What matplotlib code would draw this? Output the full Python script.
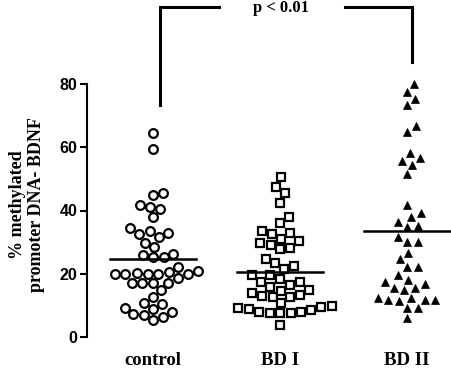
import numpy as np
import matplotlib
matplotlib.use('Agg')
import matplotlib.pyplot as plt

groups = ['control', 'BD I', 'BD II']
control = [64.6, 59.3, 45.4, 44.9, 41.7, 40.4, 41.2, 38.0, 33.5, 32.6, 34.5,
           31.5, 32.8, 28.5, 29.8, 25.2, 26.4, 25.2, 25.9, 22.2, 20.0, 19.8,
           19.9, 20.6, 21.0, 19.8, 20.0, 20.3, 17.2, 17.0, 18.5, 17.2, 17.1,
           14.9, 12.7, 10.4, 9.3, 10.6, 8.0, 7.3, 5.4, 6.4, 7.0, 8.8]
bd1 = [50.5, 47.5, 45.4, 42.4, 37.8, 35.9, 33.5, 32.6, 32.8, 31.0, 29.6,
       28.3, 27.7, 29.1, 30.3, 24.6, 23.3, 21.4, 22.4, 19.6, 18.3, 17.5,
       16.4, 17.5, 19.6, 14.9, 14.0, 13.0, 12.7, 12.7, 13.3, 14.6, 15.9,
       10.8, 9.8, 9.6, 9.1, 8.5, 8.0, 7.7, 7.5, 7.5, 8.0, 8.8, 3.8]
bd2 = [80.0, 77.5, 75.4, 73.3, 66.8, 64.9, 56.5, 55.7, 58.1, 54.4, 51.5,
       41.7, 39.1, 36.4, 38.0, 34.9, 35.1, 30.1, 30.1, 31.5, 26.5, 24.6,
       22.2, 22.2, 19.6, 17.5, 15.4, 14.9, 15.4, 16.9, 18.0, 12.4, 11.7,
       11.7, 11.4, 11.7, 12.4, 9.3, 9.3, 5.9]
medians = [24.6, 20.6, 33.5]
p_text = 'p < 0.01'

serif = 'Liberation Serif'
sans = 'Liberation Sans'


def swarm(ax, values, center, size_px):
    # simple beeswarm: place each point at the smallest offset without overlap
    tr = ax.transData
    cx = tr.transform((center, 0))[0]
    placed = []
    out = np.zeros(len(values))
    for i in np.argsort(values):
        y = tr.transform((center, values[i]))[1]
        cands = [0.0]
        for px, py in placed:
            dy = abs(py - y)
            if dy < size_px:
                dx = np.sqrt(size_px ** 2 - dy ** 2)
                cands += [px - cx + dx, px - cx - dx]
        cands.sort(key=abs)
        for c in cands:
            if all((cx + c - px) ** 2 + (y - py) ** 2 >= size_px ** 2 - 1e-6
                   for px, py in placed):
                break
        placed.append((cx + c, y))
        out[i] = tr.inverted().transform((cx + c, y))[0]
    return out


fig = plt.figure(figsize=(4.52, 3.76), dpi=100)
ax = fig.add_axes([87 / 452, 39 / 376, 365 / 452, 253 / 376])
ax.set_xlim(-0.52, 2.354)
ax.set_ylim(0, 80)

styles = [dict(marker='o', mfc='white', mec='black', mew=1.6, ms=6.3),
          dict(marker='s', mfc='white', mec='black', mew=1.6, ms=6.0),
          dict(marker='^', mfc='black', mec='black', mew=0.5, ms=6.3)]

for i, vals in enumerate([control, bd1, bd2]):
    xs = swarm(ax, vals, i, 10.5)
    ax.plot(xs, vals, ls='none', clip_on=False, zorder=3, **styles[i])
    ax.plot([i - 0.34, i + 0.34], [medians[i], medians[i]], color='black',
            lw=1.8, clip_on=False, zorder=4)

# significance bracket
ax.plot([0.055, 0.055, 0.52], [73.3, 104.3, 104.3], color='black', lw=2.2,
        clip_on=False, solid_joinstyle='miter')
ax.plot([1.512, 2.039, 2.039], [104.3, 104.3, 86.9], color='black', lw=2.2,
        clip_on=False, solid_joinstyle='miter')
ax.text(1.008, 104.0, p_text, ha='center', va='center', fontsize=12,
        fontweight='bold', family=serif)

for s in ['top', 'right', 'bottom']:
    ax.spines[s].set_visible(False)
ax.spines['left'].set_linewidth(1.5)
ax.set_yticks([0, 20, 40, 60, 80])
ax.tick_params(axis='y', length=5, width=1.5, pad=2)
for lab in ax.get_yticklabels():
    lab.set_fontfamily(sans)
    lab.set_fontweight('bold')
    lab.set_fontsize(11.5)

ax.set_xticks([0, 1, 2])
ax.set_xticklabels(groups, fontsize=13.5, fontweight='bold', family=serif)
ax.tick_params(axis='x', length=0, pad=11)

fig.text(27 / 452, 1 - 205 / 376, '% methylated\npromoter DNA- BDNF',
         rotation=90, ha='center', va='center', multialignment='center',
         fontsize=13, fontweight='bold', family=serif, linespacing=1.15)

fig.savefig('out.png', dpi=100)
